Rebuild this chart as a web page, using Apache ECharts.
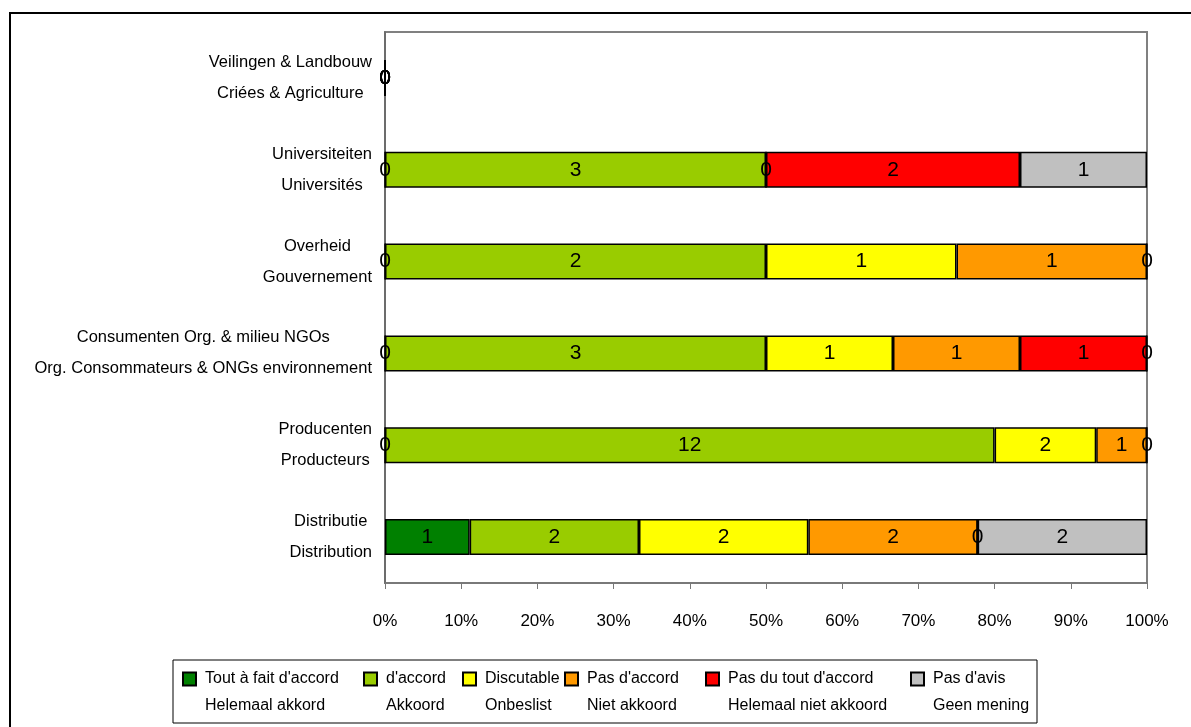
<!DOCTYPE html>
<html>
<head>
<meta charset="utf-8">
<script src="https://cdn.jsdelivr.net/npm/echarts@6/dist/echarts.min.js"></script>
<style>
html,body{margin:0;padding:0;background:#fff;}
#chart{width:1191px;height:727px;}
</style>
</head>
<body>
<div id="chart"></div>
<script>
// Categories, bottom to top
var categories = [
  "Distributie\nDistribution",
  "Producenten\nProducteurs",
  "Consumenten Org. & milieu NGOs\nOrg. Consommateurs & ONGs environnement",
  "Overheid\nGouvernement",
  "Universiteiten\nUniversités",
  "Veilingen & Landbouw\nCriées & Agriculture"
];
var seriesNamesFR = ["Tout à fait d'accord", "d'accord", "Discutable", "Pas d'accord", "Pas du tout d'accord", "Pas d'avis"];
var seriesNamesNL = ["Helemaal akkord", "Akkoord", "Onbeslist", "Niet akkoord", "Helemaal niet akkoord", "Geen mening"];
var seriesColors = ["#008000", "#99CC00", "#FFFF00", "#FF9900", "#FF0000", "#C0C0C0"];
// counts per series (same order as categories); null = empty cell
var toutAFait   = [1, 0, 0, 0, 0, 0];
var daccord     = [2, 12, 3, 2, 3, 0];
var discutable  = [2, 2, 1, 1, 0, 0];
var pasDaccord  = [2, 1, 1, 1, null, 0];
var pasDuTout   = [0, null, 1, null, 2, 0];
var pasDavis    = [2, 0, 0, 0, 1, 0];
var xTicks = [0, 10, 20, 30, 40, 50, 60, 70, 80, 90, 100];

var counts = [toutAFait, daccord, discutable, pasDaccord, pasDuTout, pasDavis];
var totals = categories.map(function (c, i) {
  var s = 0;
  counts.forEach(function (arr) { s += (arr[i] || 0); });
  return s;
});

var txtFont = "'Liberation Sans', Arial, sans-serif";
var legendWidths = [154, 72, 75, 114, 178, 100];
var rich = {};
legendWidths.forEach(function (w, i) {
  rich['w' + i] = { width: w, lineHeight: 27, fontSize: 16, fontFamily: txtFont, color: '#000', align: 'left' };
});

var series = counts.map(function (arr, si) {
  return {
    name: seriesNamesFR[si],
    type: 'bar',
    stack: 'total',
    barWidth: 36,
    itemStyle: { color: seriesColors[si], borderColor: '#000', borderWidth: 1.5 },
    label: {
      show: true,
      position: 'inside',
      color: '#000',
      fontSize: 21,
      fontFamily: txtFont,
      formatter: function (p) { return String(counts[p.seriesIndex][p.dataIndex]); }
    },
    emphasis: { disabled: true },
    data: arr.map(function (v, i) {
      if (v === null) return null;
      return totals[i] > 0 ? v / totals[i] * 100 : 0;
    })
  };
});

var chart = echarts.init(document.getElementById('chart'));
chart.setOption({
  animation: false,
  backgroundColor: '#fff',
  graphic: [
    { type: 'rect', z: -10, shape: { x: 10, y: 13, width: 1400, height: 900 }, style: { fill: 'none', stroke: '#000', lineWidth: 2 } },
    { type: 'rect', z: -10, shape: { x: 173, y: 660, width: 864, height: 63 }, style: { fill: 'none', stroke: '#000', lineWidth: 1 } }
  ],
  grid: { left: 385, right: 44, top: 32, bottom: 144, containLabel: false, outerBoundsMode: 'none', show: true, borderColor: '#808080', borderWidth: 2, backgroundColor: 'transparent' },
  xAxis: {
    type: 'value', min: 0, max: 100, interval: 10,
    axisLine: { show: true, lineStyle: { color: '#777', width: 1.5 } },
    axisTick: { show: true, length: 6, lineStyle: { color: '#777' } },
    splitLine: { show: false },
    axisLabel: { margin: 30, fontSize: 17, fontFamily: txtFont, color: '#000', formatter: '{value}%' },
    data: xTicks
  },
  yAxis: {
    type: 'category',
    data: categories,
    axisLine: { show: true, lineStyle: { color: '#666', width: 1.5 } },
    axisTick: { show: false },
    axisLabel: {
      margin: 13,
      formatter: function (v) {
        return v.split('\n').map(function (l) { return '{c|' + l + '}'; }).join('\n');
      },
      rich: { c: { align: 'center', fontSize: 16.5, lineHeight: 31, fontFamily: txtFont, color: '#000' } }
    }
  },
  legend: {
    left: 182, top: 671, padding: 0, itemGap: 4,
    itemWidth: 13, itemHeight: 13,
    icon: 'rect',
    selectedMode: false,
    data: seriesNamesFR,
    textStyle: { padding: [27, 0, 0, 4], fontSize: 16, fontFamily: txtFont, color: '#000', rich: rich },
    formatter: function (name) {
      var i = seriesNamesFR.indexOf(name);
      return '{w' + i + '|' + seriesNamesFR[i] + '}\n{w' + i + '|' + seriesNamesNL[i] + '}';
    }
  },
  series: series
});
</script>
</body>
</html>
